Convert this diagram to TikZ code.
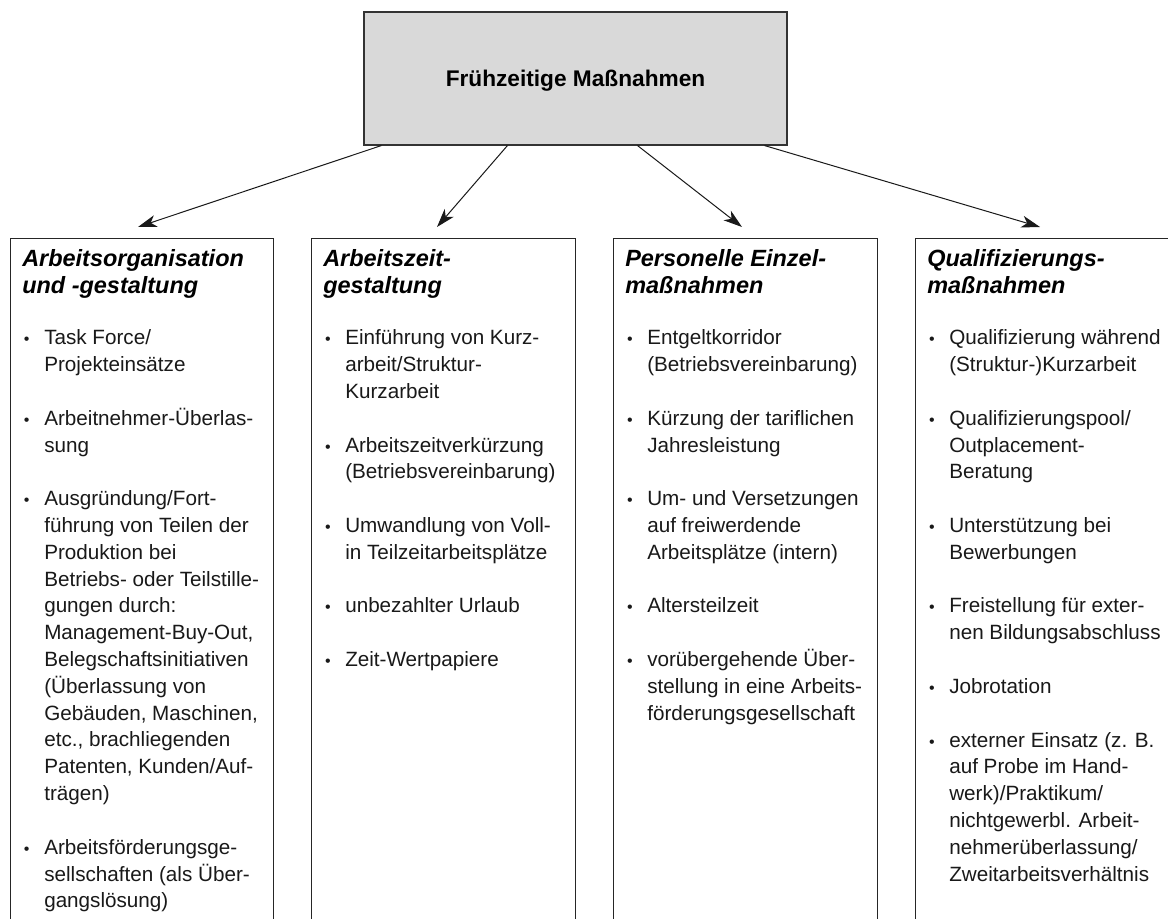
\documentclass[tikz,border=0pt]{standalone}
\usepackage{fontspec}
\setmainfont{Liberation Sans}
\usetikzlibrary{arrows.meta}
\newcommand{\bul}{\leavevmode\llap{{\fontsize{12}{12}\selectfont\textbullet}\hspace{11pt}}}
\newcommand{\itxt}[1]{\parbox[t]{220pt}{\raggedright #1}}
\tikzset{
  topbox/.style={draw=black!80, fill=black!15, line width=0.8pt, minimum width=317.25pt, minimum height=99.75pt, inner sep=0pt, text depth=0pt, font=\fontsize{17}{20}\selectfont\bfseries},
  colbox/.style={draw=black!85, line width=0.8pt, minimum height=525pt, anchor=north west, inner sep=0pt},
  hdr/.style={anchor=base west, inner sep=0pt, font=\fontsize{17.6}{20.6}\selectfont\bfseries\itshape},
  itm/.style={anchor=base west, inner sep=0pt, text=black!90, font=\fontsize{15.5}{20.1}\selectfont},
  arr/.style={-{Stealth[length=14pt,width=9pt,inset=4pt]}, line width=0.75pt, black!90},
}
\begin{document}
\begin{tikzpicture}[x=0.75pt,y=-0.75pt]
\useasboundingbox (0,0) rectangle (1168,919);
\clip (0,0) rectangle (1168,919);
\fill[white] (0,0) rectangle (1168,919);

\node[topbox] (top) at (575.5,78.5) {Frühzeitige Maßnahmen};

\node[colbox, minimum width=197.25pt] (b1) at (10,238) {};
\node[colbox, minimum width=198pt] (b2) at (311,238) {};
\node[colbox, minimum width=198pt] (b3) at (613,238) {};
\node[colbox, minimum width=225pt] (b4) at (915,238) {};

\coordinate (t1) at (138,227);
\coordinate (t2) at (437,227);
\coordinate (t3) at (742,227);
\coordinate (t4) at (1040,227);
\draw[arr] ([xshift=13.5pt]top.south west) -- (t1);
\draw[arr] ([xshift=108pt]top.south west) -- (t2);
\draw[arr] ([xshift=205.5pt]top.south west) -- (t3);
\draw[arr] ([xshift=300.75pt]top.south west) -- (t4);

% headers
\node[hdr] (h1) at (22,266.5) {\itxt{Arbeitsorganisation\\und -gestaltung}};
\node[hdr] (h2) at (323,266.5) {\itxt{Arbeitszeit-\\gestaltung}};
\node[hdr] (h3) at (625,266.5) {\itxt{Personelle Einzel-\\maßnahmen}};
\node[hdr] (h4) at (927,266.5) {\itxt{Qualifizierungs-\\maßnahmen}};

% column 1
\node[itm] (a1) at (44,345) {\itxt{\bul Task Force/\\Projekteinsätze}};
\node[itm] (a2) at (44,425.4) {\itxt{\bul Arbeitnehmer-Überlas-\\sung}};
\node[itm] (a3) at (44,505.8) {\itxt{\bul Ausgründung/Fort-\\führung von Teilen der\\Produktion bei\\Betriebs- oder Teilstille-\\gungen durch:\\Management-Buy-Out,\\Belegschaftsinitiativen\\(Überlassung von\\Gebäuden, Maschinen,\\etc., brachliegenden\\Patenten, Kunden/Auf-\\trägen)}};
\node[itm] (a4) at (44,854.2) {\itxt{\bul Arbeitsförderungsge-\\sellschaften (als Über-\\gangslösung)}};

% column 2
\node[itm] (c1) at (345,345) {\itxt{\bul Einführung von Kurz-\\arbeit/Struktur-\\Kurzarbeit}};
\node[itm] (c2) at (345,452.2) {\itxt{\bul Arbeitszeitverkürzung\\(Betriebsvereinbarung)}};
\node[itm] (c3) at (345,532.6) {\itxt{\bul Umwandlung von Voll-\\in Teilzeitarbeitsplätze}};
\node[itm] (c4) at (345,613) {\itxt{\bul unbezahlter Urlaub}};
\node[itm] (c5) at (345,666.6) {\itxt{\bul Zeit-Wertpapiere}};

% column 3
\node[itm] (d1) at (647,345) {\itxt{\bul Entgeltkorridor\\(Betriebsvereinbarung)}};
\node[itm] (d2) at (647,425.4) {\itxt{\bul Kürzung der tariflichen\\Jahresleistung}};
\node[itm] (d3) at (647,505.8) {\itxt{\bul Um- und Versetzungen\\auf freiwerdende\\Arbeitsplätze (intern)}};
\node[itm] (d4) at (647,613) {\itxt{\bul Altersteilzeit}};
\node[itm] (d5) at (647,666.6) {\itxt{\bul vorübergehende Über-\\stellung in eine Arbeits-\\förderungsgesellschaft}};

% column 4
\node[itm] (e1) at (949,345) {\itxt{\bul Qualifizierung während\\(Struktur-)Kurzarbeit}};
\node[itm] (e2) at (949,425.4) {\itxt{\bul Qualifizierungspool/\\Outplacement-\\Beratung}};
\node[itm] (e3) at (949,532.6) {\itxt{\bul Unterstützung bei\\Bewerbungen}};
\node[itm] (e4) at (949,613) {\itxt{\bul Freistellung für exter-\\nen Bildungsabschluss}};
\node[itm] (e5) at (949,693.4) {\itxt{\bul Jobrotation}};
\node[itm] (e6) at (949,747) {\itxt{\bul externer Einsatz (z. B.\\auf Probe im Hand-\\werk)/Praktikum/\\nichtgewerbl. Arbeit-\\nehmerüberlassung/\\Zweitarbeitsverhältnis}};
\end{tikzpicture}
\end{document}
